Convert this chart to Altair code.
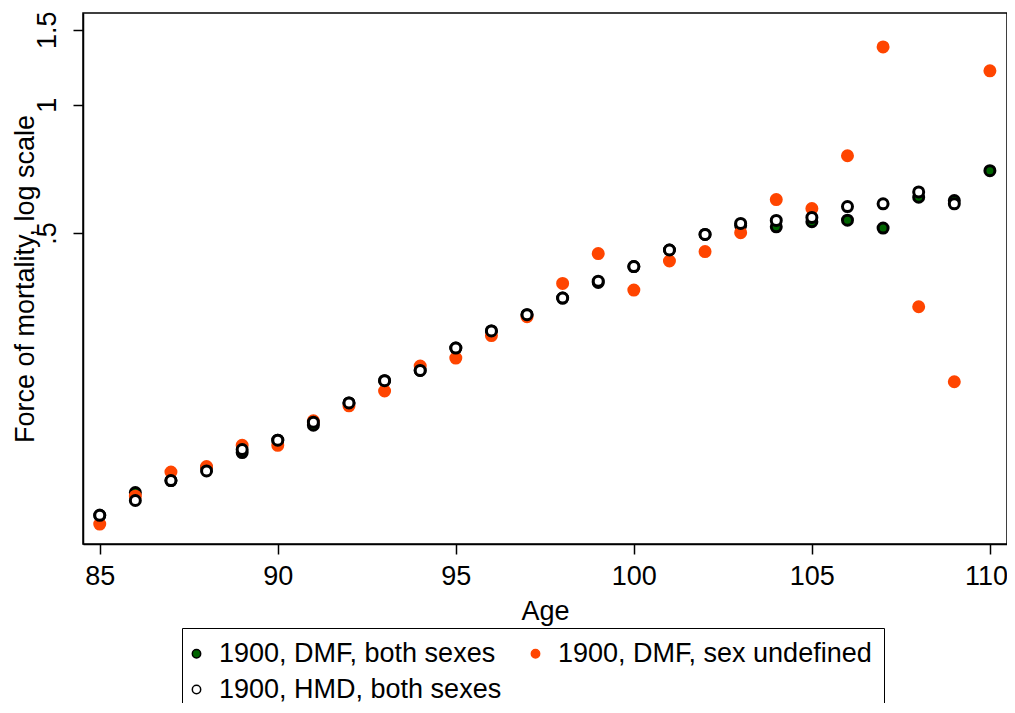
import altair as alt
import pandas as pd

# Force of mortality, ages 85-110
ages = list(range(85, 111))
dmf_both = [0.1088, 0.1231, 0.1313, 0.1408, 0.1527, 0.1633, 0.1771, 0.1997,
            0.2252, 0.2380, 0.2685, 0.2946, 0.3217, 0.3518, 0.3828, 0.4172,
            0.4561, 0.4963, 0.5210, 0.5170, 0.5313, 0.5360, 0.5134, 0.6065,
            0.5959, 0.7001]
dmf_undef = [0.1038, 0.1207, 0.1375, 0.1416, 0.1588, 0.1588, 0.1813, 0.1966,
             0.2130, 0.2437, 0.2544, 0.2873, 0.3182, 0.3808, 0.4474, 0.3673,
             0.4299, 0.4522, 0.5009, 0.5991, 0.5708, 0.7589, 1.3660, 0.3357,
             0.2239, 1.2006]
hmd_ages = list(range(85, 110))
hmd_both = [0.1088, 0.1179, 0.1313, 0.1383, 0.1552, 0.1633, 0.1800, 0.1997,
            0.2252, 0.2380, 0.2685, 0.2946, 0.3217, 0.3518, 0.3855, 0.4172,
            0.4561, 0.4963, 0.5267, 0.5351, 0.5438, 0.5769, 0.5854, 0.6244,
            0.5854]

series = ["1900, DMF, both sexes", "1900, DMF, sex undefined", "1900, HMD, both sexes"]
fills = ["#006400", "#ff4500", "white"]
strokes = ["black", "#ff4500", "black"]

x_ticks = [85, 90, 95, 100, 105, 110]
y_ticks = [0.5, 1, 1.5]

rows = []
for name, xs, ys in [(series[0], ages, dmf_both),
                     (series[1], ages, dmf_undef),
                     (series[2], hmd_ages, hmd_both)]:
    for a, v in zip(xs, ys):
        rows.append({"age": a, "mu": v, "series": name})
df = pd.DataFrame(rows)

FONT = "Liberation Sans"

legend = alt.Legend(
    orient="none", legendX=99, legendY=615, columns=2, direction="horizontal",
    strokeColor="black", fillColor="white", padding=12,
    symbolType="circle", symbolSize=70, symbolStrokeWidth=1.5,
    symbolOffset=-11,
    labelFont=FONT, labelFontSize=27, labelColor="black", labelLimit=450,
    labelOffset=9, columnPadding=26, rowPadding=8,
)

chart = alt.Chart(df).mark_point(
    filled=True, shape="circle", size=100, strokeWidth=3, opacity=1
).encode(
    x=alt.X("age:Q",
            scale=alt.Scale(domain=[84.53, 110.48], nice=False, zero=False),
            axis=alt.Axis(values=x_ticks, title="Age", labelPadding=9,
                          labelFlush=False, titleX=462, titleY=54,
                          labelOffset=alt.condition("datum.value == 110",
                                                    alt.value(-4), alt.value(0)))),
    y=alt.Y("mu:Q",
            scale=alt.Scale(type="log", domain=[0.0932, 1.641], nice=False),
            axis=alt.Axis(values=y_ticks, title="Force of mortality, log scale",
                          labelExpr="datum.value == 0.5 ? '.5' : datum.value == 1 ? '1' : '1.5'",
                          labelAngle=-90, labelAlign="center", labelBaseline="bottom",
                          labelPadding=12, labelFlush=False,
                          titleX=-44, titleY=265.5)),
    fill=alt.Fill("series:N", scale=alt.Scale(domain=series, range=fills),
                  legend=legend, title=None),
    stroke=alt.Stroke("series:N", scale=alt.Scale(domain=series, range=strokes),
                      legend=legend, title=None),
).properties(
    width=924, height=531,
    autosize=alt.AutoSizeParams(type="none"),
    padding={"left": 75, "top": 5, "right": 0, "bottom": 159},
).configure_axis(
    labelFont=FONT, titleFont=FONT, labelFontSize=27, titleFontSize=27,
    titleFontWeight="normal", labelColor="black", titleColor="black",
    domainColor="black", tickColor="black", tickSize=10, domainWidth=1.5,
    tickWidth=1.5, grid=False,
).configure_view(
    stroke="black", strokeWidth=1.5
)

chart.save("out.html", embed_options={"renderer": "svg", "actions": False})
